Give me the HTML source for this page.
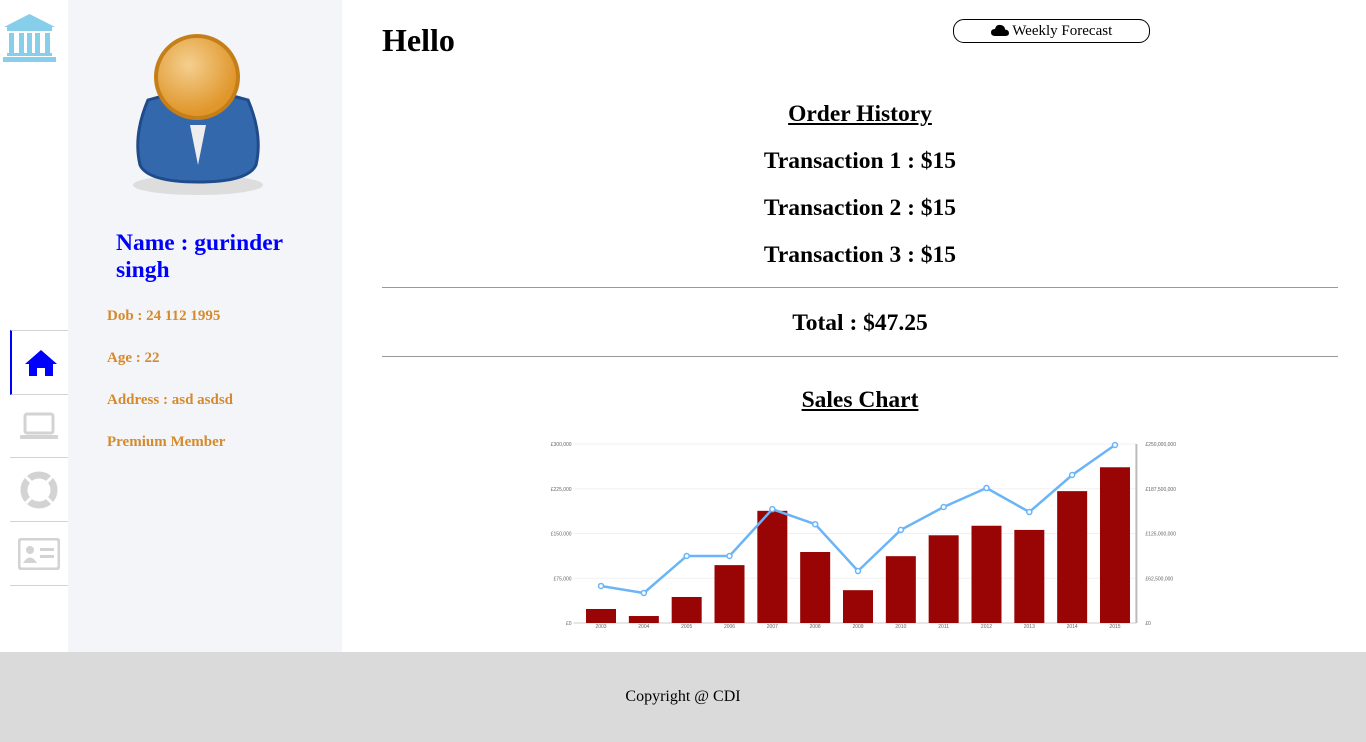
<!DOCTYPE html>
<html><head><meta charset="utf-8">
<style>
body{margin:0;width:1366px;height:742px;position:relative;font-family:"Liberation Serif",serif;background:#fff;overflow:hidden}
.abs{position:absolute}
#side{left:68px;top:0;width:274px;height:652px;background:#f4f5f9}
.nav{left:10px;width:58px;height:63px;border-bottom:1px solid #d3d3d3;display:flex;align-items:center;justify-content:center}
.info{left:107px;color:#d68a2c;font-weight:bold;font-size:15px}
h2{margin:0;font-size:23.5px;font-weight:bold;text-align:center;position:absolute;left:382px;width:956px}
hr{position:absolute;left:382px;width:956px;margin:0;border:0;border-top:1px solid #999}
#footer{left:0;top:652px;width:1366px;height:90px;background:#dadada;text-align:center;line-height:90px;font-size:16px}
</style></head><body>
<svg class="abs" style="left:3px;top:13px" width="53" height="50" viewBox="0 0 53 50"><g fill="#87ceeb"><polygon points="26.5,1 1,14 52,14"/><rect x="4" y="14" width="45" height="4"/><rect x="6" y="20" width="5" height="20"/><rect x="16" y="20" width="5" height="20"/><rect x="32" y="20" width="5" height="20"/><rect x="42" y="20" width="5" height="20"/><rect x="24" y="20" width="5" height="20"/><rect x="4" y="40" width="45" height="3"/><rect x="0" y="44" width="53" height="5"/></g></svg>
<div class="abs nav" style="top:330px;border-top:1px solid #d3d3d3;border-left:2px solid #00f"><svg width="32" height="28" viewBox="0 0 32 28"><polygon points="16,1 0,15 4,15 4,27 12,27 12,19 20,19 20,27 28,27 28,15 32,15" fill="#00f"/></svg></div>
<div class="abs nav" style="top:394px"><svg width="40" height="28" viewBox="0 0 40 28"><rect x="6" y="2" width="28" height="19" rx="2" fill="none" stroke="#d3d3d3" stroke-width="3"/><rect x="1" y="23" width="38" height="4" rx="1" fill="#d3d3d3"/></svg></div>
<div class="abs nav" style="top:458px"><svg width="38" height="38" viewBox="0 0 38 38"><circle cx="19" cy="19" r="15" fill="none" stroke="#d3d3d3" stroke-width="7"/><g stroke="#fff" stroke-width="3"><line x1="6" y1="6" x2="11" y2="11"/><line x1="32" y1="6" x2="27" y2="11"/><line x1="6" y1="32" x2="11" y2="27"/><line x1="32" y1="32" x2="27" y2="27"/></g></svg></div>
<div class="abs nav" style="top:522px"><svg width="42" height="32" viewBox="0 0 42 32"><rect x="1" y="1" width="40" height="30" rx="3" fill="none" stroke="#d3d3d3" stroke-width="3"/><circle cx="12" cy="12" r="4" fill="#d3d3d3"/><path d="M5 25 Q12 14 19 25Z" fill="#d3d3d3"/><rect x="22" y="10" width="14" height="3" fill="#d3d3d3"/><rect x="22" y="17" width="14" height="3" fill="#d3d3d3"/></svg></div>
<div class="abs" id="side"></div>
<svg class="abs" style="left:128px;top:30px" width="140" height="170" viewBox="0 0 140 170">
<defs><radialGradient id="hg" cx="0.4" cy="0.35" r="0.6"><stop offset="0" stop-color="#f4cf90"/><stop offset="1" stop-color="#e0962a"/></radialGradient></defs>
<ellipse cx="70" cy="155" rx="65" ry="10" fill="#ddd"/>
<path d="M20 70 Q70 55 120 70 Q135 105 128 135 Q120 152 70 152 Q20 152 12 135 Q5 105 20 70Z" fill="#3468ad" stroke="#1f4b8a" stroke-width="3"/>
<polygon points="62,95 78,95 70,135" fill="#eee"/>
<circle cx="69" cy="47" r="41" fill="url(#hg)" stroke="#c57f18" stroke-width="4"/>
</svg>
<div class="abs" style="left:116px;top:230px;color:#00f;font-size:23.5px;font-weight:bold;line-height:27px;width:200px">Name : gurinder singh</div>
<div class="abs info" style="top:308px">Dob : 24 112 1995</div>
<div class="abs info" style="top:350px">Age : 22</div>
<div class="abs info" style="top:392px">Address : asd asdsd</div>
<div class="abs info" style="top:434px">Premium Member</div>
<div class="abs" style="left:382px;top:22px;font-size:32px;font-weight:bold">Hello</div>
<div class="abs" style="left:953px;top:19px;width:195px;height:22px;border:1px solid #000;border-radius:11px;text-align:center;font-size:15px;line-height:22px"><svg width="18" height="12" viewBox="0 0 18 12" style="vertical-align:-1px"><path d="M4 12 Q0 12 0 8.5 Q0 5 4 5 Q5 0 10 1 Q14 2 14 5.5 Q18 6 18 9 Q18 12 14 12Z" fill="#000"/></svg> Weekly Forecast</div>
<h2 style="top:101px;text-decoration:underline">Order History</h2>
<h2 style="top:148px">Transaction 1 : $15</h2>
<h2 style="top:195px">Transaction 2 : $15</h2>
<h2 style="top:242px">Transaction 3 : $15</h2>
<hr style="top:287px">
<h2 style="top:310px">Total : $47.25</h2>
<hr style="top:356px">
<h2 style="top:387px;text-decoration:underline">Sales Chart</h2>
<svg id="chart" class="abs" style="left:530px;top:435px" width="670" height="200"></svg>
<div class="abs" id="footer">Copyright @ CDI</div>
<script>
const years=["2003","2004","2005","2006","2007","2008","2009","2010","2011","2012","2013","2014","2015"];
const sales=[23500,11700,43600,97000,188000,119000,55000,112000,147000,163000,156000,221000,261000];
const revenue=[51700000,41900000,93600000,93600000,159000000,138000000,72600000,130000000,162000000,188500000,155000000,206700000,248600000];
const leftTicks=[0,75000,150000,225000,300000];
const leftLabels=["£0","£75,000","£150,000","£225,000","£300,000"];
const rightTicks=[0,62500000,125000000,187500000,250000000];
const rightLabels=["£0","£62,500,000","£125,000,000","£187,500,000","£250,000,000"];
const svg=document.getElementById('chart');const NS="http://www.w3.org/2000/svg";
const X0=49.6,X1=606.4,Y0=188,Y1=9;
const xc=i=>X0+(X1-X0)*(i+0.5)/years.length;
const yl=v=>Y0-(Y0-Y1)*v/300000;
const yr=v=>Y0-(Y0-Y1)*v/250000000;
function mk(t,a){const e=document.createElementNS(NS,t);for(const k in a)e.setAttribute(k,a[k]);svg.appendChild(e);return e;}
leftTicks.forEach((v,i)=>{const g=mk('line',{x1:X0-6,x2:X1,y1:yl(v),y2:yl(v),stroke:'#f0f0f0'});
const t=mk('text',{x:X0-8,y:yl(v)+2,'font-size':5,'text-anchor':'end',fill:'#666','font-family':'Liberation Sans'});t.textContent=leftLabels[i];});
rightTicks.forEach((v,i)=>{const t=mk('text',{x:X1+9,y:yr(v)+2,'font-size':5,fill:'#666','font-family':'Liberation Sans'});t.textContent=rightLabels[i];});
const ax=mk('line',{x1:X1,x2:X1,y1:Y1,y2:Y0,stroke:'#bbb','stroke-width':2});
const bx=mk('line',{x1:X0-6,x2:X1,y1:Y0,y2:Y0,stroke:'#ccc'});
sales.forEach((v,i)=>{const b=mk('rect',{x:xc(i)-15,y:yl(v),width:30,height:Y0-yl(v),fill:'#990505'});
const t=mk('text',{x:xc(i),y:Y0+5,'font-size':5,'text-anchor':'middle',fill:'#666','font-family':'Liberation Sans'});t.textContent=years[i];});
const pl=mk('polyline',{points:revenue.map((v,i)=>xc(i)+','+yr(v)).join(' '),fill:'none',stroke:'#6ab4f8','stroke-width':2.5});
revenue.forEach((v,i)=>{const c=mk('circle',{cx:xc(i),cy:yr(v),r:2.5,fill:'#fff',stroke:'#6ab4f8','stroke-width':1.5});});
</script>
</body></html>
